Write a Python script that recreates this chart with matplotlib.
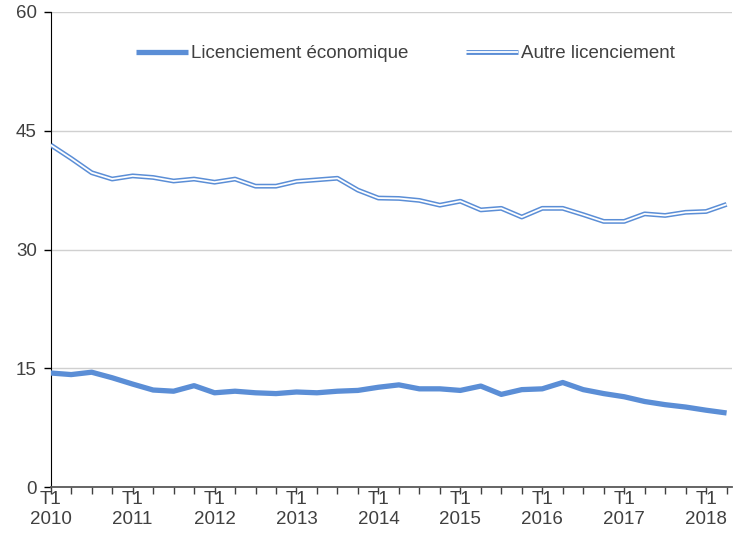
import matplotlib
matplotlib.use('Agg')
import matplotlib.pyplot as plt
import matplotlib.patheffects as pe

# quarters T1 2010 .. T2 2018
years = list(range(2010, 2019))
quarters = [f"T{q} {y}" for y in years for q in range(1, 5)][:34]

economique = [14.4, 14.2, 14.5, 13.8, 13.0, 12.25, 12.1, 12.8, 11.9, 12.1,
              11.9, 11.8, 12.0, 11.9, 12.1, 12.2, 12.6, 12.9, 12.4, 12.4,
              12.2, 12.75, 11.7, 12.3, 12.4, 13.2, 12.3, 11.8, 11.4, 10.8,
              10.4, 10.1, 9.7, 9.35]
autre = [43.2, 41.5, 39.7, 38.9, 39.3, 39.1, 38.65, 38.9, 38.5, 38.9,
         38.0, 38.0, 38.6, 38.8, 39.0, 37.5, 36.5, 36.45, 36.2, 35.6,
         36.1, 35.0, 35.2, 34.1, 35.2, 35.2, 34.4, 33.55, 33.55, 34.5,
         34.3, 34.7, 34.8, 35.7]

plt.rcParams['font.family'] = ['Liberation Sans', 'DejaVu Sans']
blue = '#5B8ED6'
text_col = '#404040'

fig = plt.figure(figsize=(7.47, 5.40), dpi=100)
ax = fig.add_axes([50.7 / 747, 53 / 540, 681 / 747, 475 / 540])

x = list(range(len(quarters)))
ax.plot(x, economique, color=blue, lw=3.8, solid_capstyle='butt', zorder=3,
        label='Licenciement économique')
# double line: white core with a blue stroke around it
ax.plot(x, autre, color='white', lw=1.3, solid_capstyle='butt', zorder=3,
        label='Autre licenciement',
        path_effects=[pe.Stroke(linewidth=3.5, foreground=blue), pe.Normal()])

ax.set_xlim(0, 33.25)
ax.set_ylim(0, 60)
ax.set_yticks([0, 15, 30, 45, 60])
ax.yaxis.grid(True, color='#d0d0d0', lw=1)
ax.set_axisbelow(True)

# "T1" as tick labels, year on a second row below
ax.set_xticks(x)
ax.set_xticklabels([q.split(' ')[0] if q.startswith('T1') else '' for q in quarters])
for i, q in enumerate(quarters):
    if q.startswith('T1'):
        ax.text(i, -0.068, q.split(' ')[1], transform=ax.get_xaxis_transform(),
                ha='center', va='center', fontsize=13.5, color=text_col)
ax.tick_params(axis='x', length=5, width=1, color='#404040', labelsize=13.5,
               labelcolor=text_col, pad=-2)
ax.tick_params(axis='y', length=5, width=1, color='black', labelsize=13.5,
               labelcolor=text_col, pad=5)

for s in ['top', 'right']:
    ax.spines[s].set_visible(False)
ax.spines['left'].set_color('black')
ax.spines['bottom'].set_color('#595959')
ax.spines['bottom'].set_linewidth(1.3)

ax.legend(loc='center', bbox_to_anchor=(0.521, 0.912), ncol=2,
          frameon=False, fontsize=13.5, handlelength=2.77, handletextpad=0.16,
          columnspacing=3.1, labelcolor=text_col, borderpad=0)

fig.savefig('out.png', dpi=100)
